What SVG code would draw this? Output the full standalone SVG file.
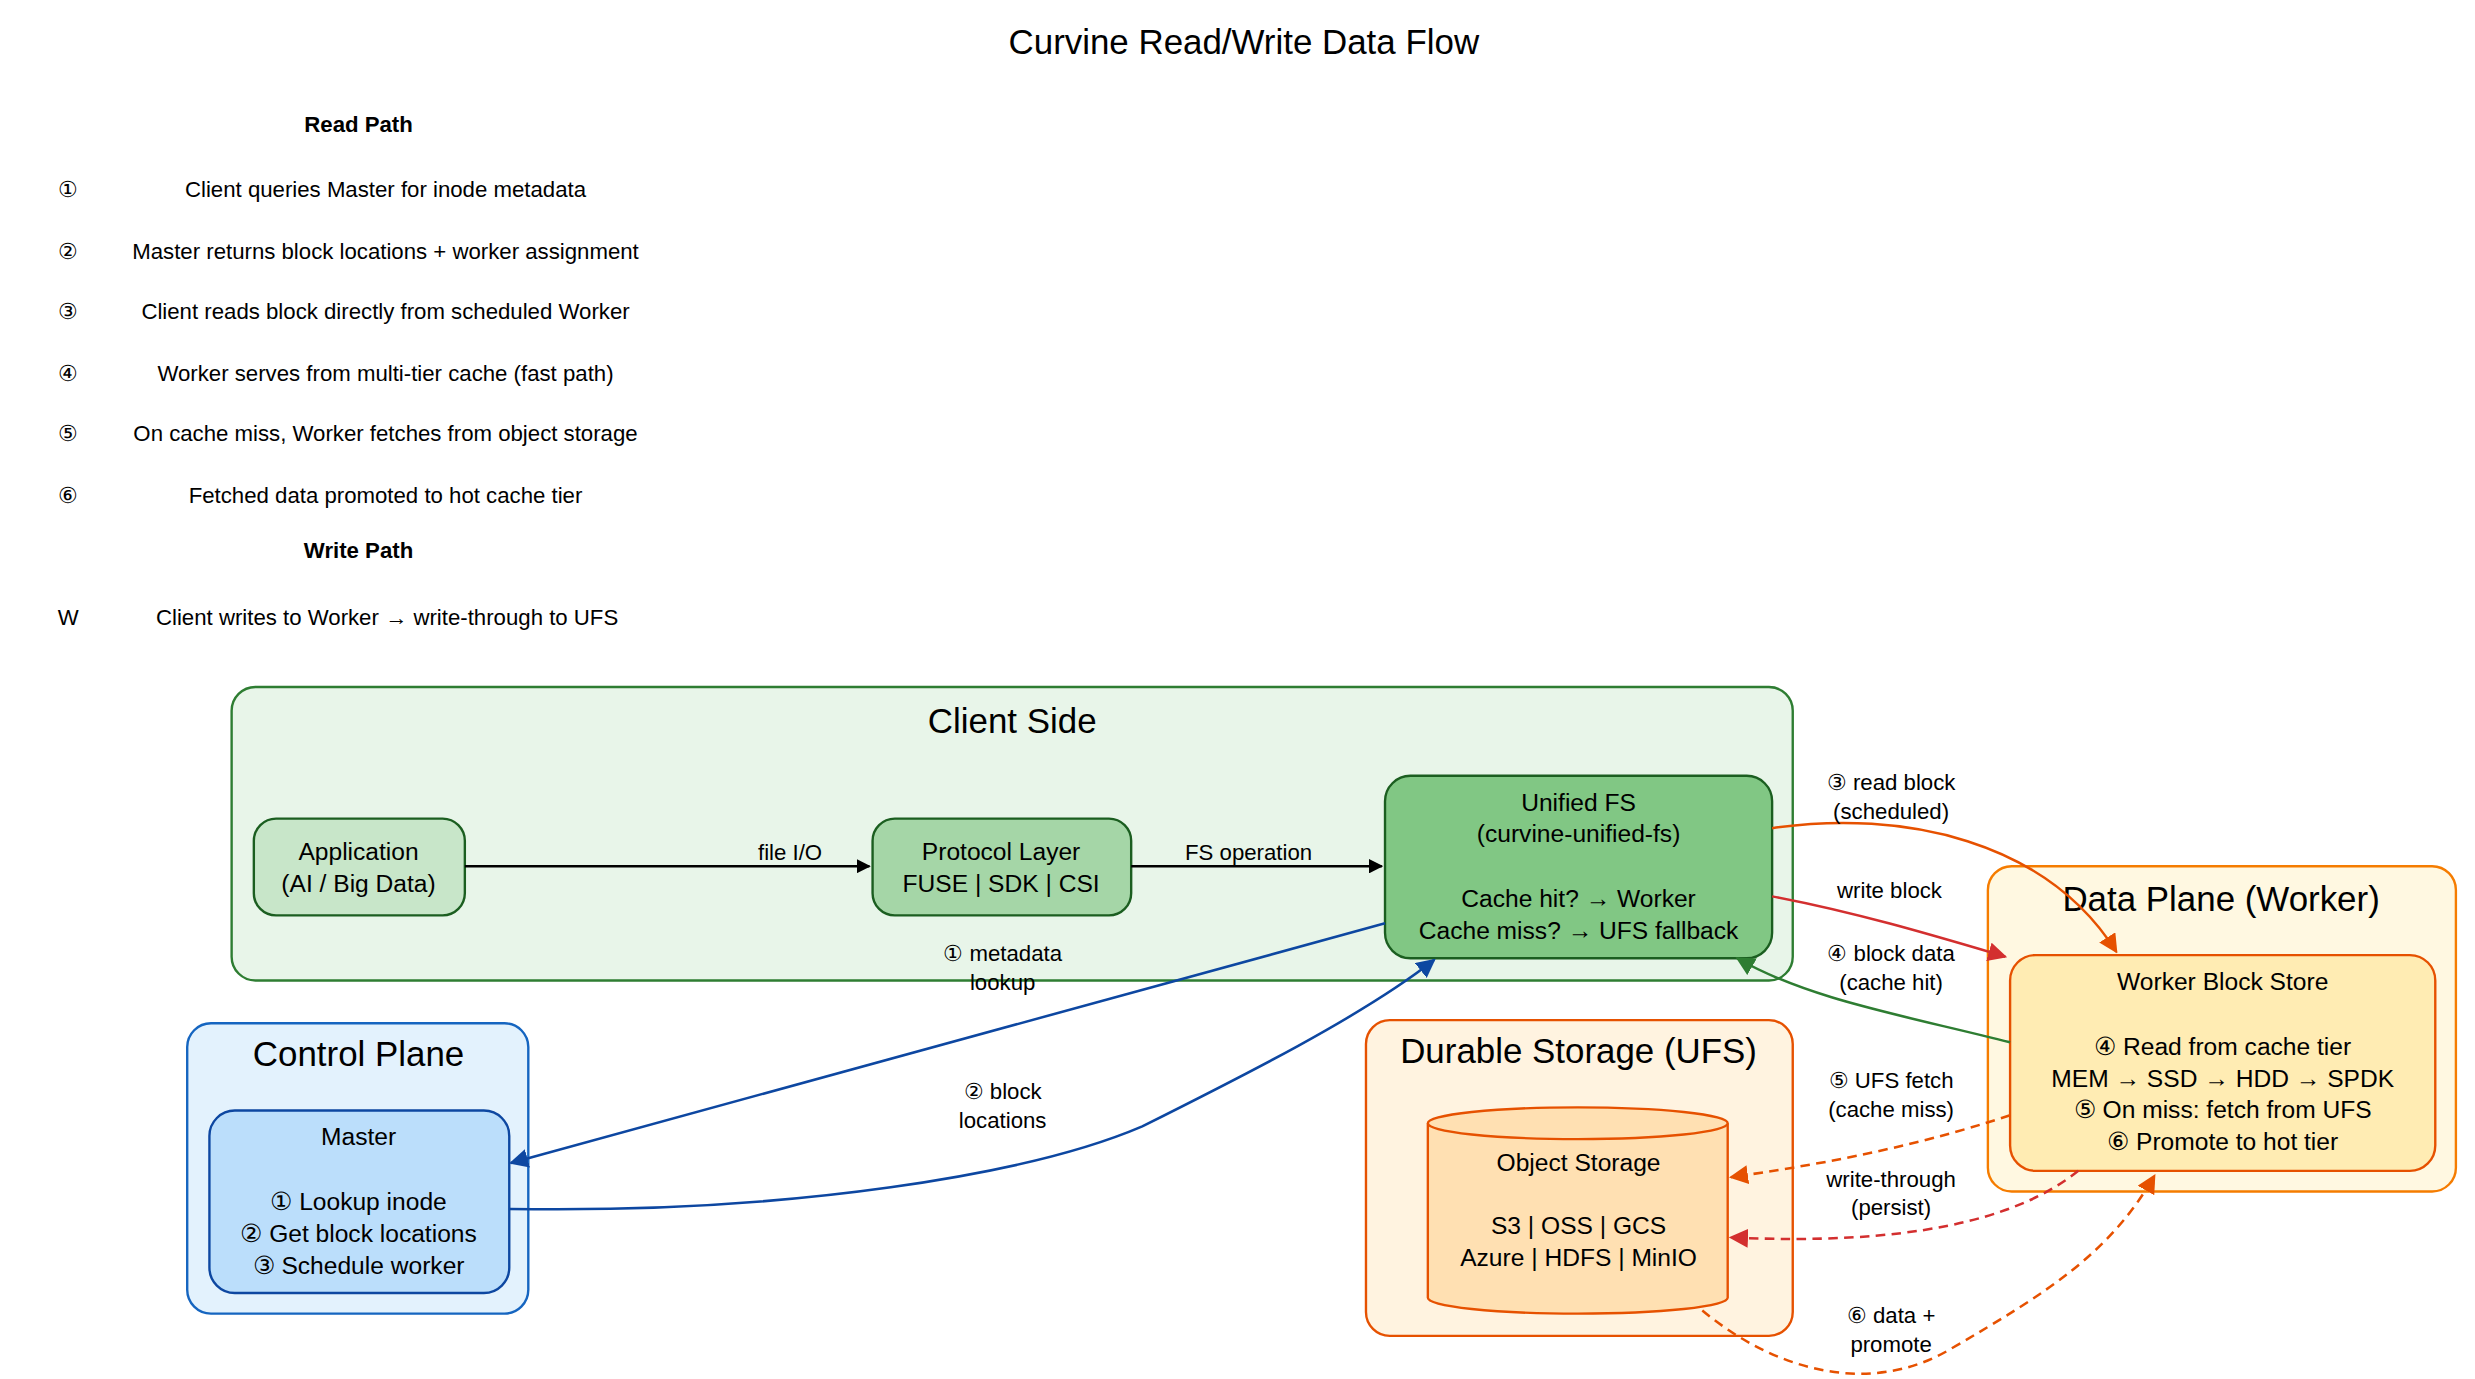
<svg xmlns="http://www.w3.org/2000/svg" width="2475" height="1379" viewBox="0 0 2475 1379">
<style>
text{font-family:"Liberation Sans",Arial,sans-serif;fill:#000;text-anchor:middle}
.t{font-size:14px}.n{font-size:15.5px}.el{font-size:14px}.cl{font-size:22px}.b{font-weight:bold}
.e{fill:none;stroke-width:1.6}.d{stroke-dasharray:6,4}
</style>
<defs>
<marker id="mk" viewBox="0 0 10 10" refX="9" refY="5" markerWidth="9" markerHeight="9" markerUnits="userSpaceOnUse" orient="auto"><path d="M0,0L10,5L0,10z" fill="#000"/></marker>
<marker id="mb" viewBox="0 0 10 10" refX="9" refY="5" markerWidth="12" markerHeight="12" markerUnits="userSpaceOnUse" orient="auto"><path d="M0,0L10,5L0,10z" fill="#0d47a1"/></marker>
<marker id="mo" viewBox="0 0 10 10" refX="9" refY="5" markerWidth="12" markerHeight="12" markerUnits="userSpaceOnUse" orient="auto"><path d="M0,0L10,5L0,10z" fill="#e65100"/></marker>
<marker id="mr" viewBox="0 0 10 10" refX="9" refY="5" markerWidth="12" markerHeight="12" markerUnits="userSpaceOnUse" orient="auto"><path d="M0,0L10,5L0,10z" fill="#d32f2f"/></marker>
<marker id="mg" viewBox="0 0 10 10" refX="9" refY="5" markerWidth="12" markerHeight="12" markerUnits="userSpaceOnUse" orient="auto"><path d="M0,0L10,5L0,10z" fill="#2e7d32"/></marker>
</defs>
<rect width="2475" height="1379" fill="#fff"/>
<g transform="scale(1.5865)">
<g id="legend">
<text x="784" y="34" style="font-size:22px">Curvine Read/Write Data Flow</text>
<text class="t b" x="226" y="83">Read Path</text>
<text class="t" x="43" y="124">①</text><text class="t" x="243" y="124">Client queries Master for inode metadata</text>
<text class="t" x="43" y="163">②</text><text class="t" x="243" y="163">Master returns block locations + worker assignment</text>
<text class="t" x="43" y="201">③</text><text class="t" x="243" y="201">Client reads block directly from scheduled Worker</text>
<text class="t" x="43" y="240">④</text><text class="t" x="243" y="240">Worker serves from multi-tier cache (fast path)</text>
<text class="t" x="43" y="278">⑤</text><text class="t" x="243" y="278">On cache miss, Worker fetches from object storage</text>
<text class="t" x="43" y="317">⑥</text><text class="t" x="243" y="317">Fetched data promoted to hot cache tier</text>
<text class="t b" x="226" y="352">Write Path</text>
<text class="t" x="43" y="394">W</text><text class="t" x="244" y="394">Client writes to Worker → write-through to UFS</text>
</g>
<g id="client-side">
<rect x="146" y="433" width="984" height="185" rx="15" fill="#e8f5e9" stroke="#2e7d32" stroke-width="1.5"/>
<text class="cl" x="638" y="462">Client Side</text>
</g>
<g id="control-plane">
<rect x="118" y="645" width="215" height="183" rx="15" fill="#e3f2fd" stroke="#1565c0" stroke-width="1.5"/>
<text class="cl" x="226" y="672">Control Plane</text>
</g>
<g id="durable-storage">
<rect x="861" y="643" width="269" height="199" rx="15" fill="#fff3e0" stroke="#e65100" stroke-width="1.5"/>
<text class="cl" x="995" y="670">Durable Storage (UFS)</text>
</g>
<g id="data-plane">
<rect x="1253" y="546" width="295" height="205" rx="15" fill="#fff8e1" stroke="#f57c00" stroke-width="1.5"/>
<text class="cl" x="1400" y="574">Data Plane (Worker)</text>
</g>
<g id="application">
<rect x="160" y="516" width="133" height="61" rx="14" fill="#c8e6c9" stroke="#1b5e20" stroke-width="1.5"/>
<text class="n" x="226" y="542">Application</text><text class="n" x="226" y="562">(AI / Big Data)</text>
</g>
<g id="protocol-layer">
<rect x="550" y="516" width="163" height="61" rx="14" fill="#a5d6a7" stroke="#1b5e20" stroke-width="1.5"/>
<text class="n" x="631" y="542">Protocol Layer</text><text class="n" x="631" y="562">FUSE | SDK | CSI</text>
</g>
<g id="unified-fs">
<rect x="873" y="489" width="244" height="115" rx="16" fill="#81c784" stroke="#1b5e20" stroke-width="1.5"/>
<text class="n" x="995" y="511">Unified FS</text><text class="n" x="995" y="531">(curvine-unified-fs)</text>
<text class="n" x="995" y="572">Cache hit? → Worker</text><text class="n" x="995" y="592">Cache miss? → UFS fallback</text>
</g>
<g id="master">
<rect x="132" y="700" width="189" height="115" rx="16" fill="#bbdefb" stroke="#0d47a1" stroke-width="1.5"/>
<text class="n" x="226" y="722">Master</text>
<text class="n" x="226" y="763">① Lookup inode</text><text class="n" x="226" y="783">② Get block locations</text><text class="n" x="226" y="803">③ Schedule worker</text>
</g>
<g id="object-storage">
<path d="M900,708 L900,818 A94.5,10 0 0 0 1089,818 L1089,708" fill="#ffe0b2" stroke="#e65100" stroke-width="1.5"/>
<ellipse cx="994.5" cy="708" rx="94.5" ry="10" fill="#ffe0b2" stroke="#e65100" stroke-width="1.5"/>
<text class="n" x="995" y="738">Object Storage</text>
<text class="n" x="995" y="778">S3 | OSS | GCS</text><text class="n" x="995" y="798">Azure | HDFS | MinIO</text>
</g>
<g id="worker-block-store">
<rect x="1267" y="602" width="268" height="136" rx="16" fill="#ffecb3" stroke="#e65100" stroke-width="1.5"/>
<text class="n" x="1401" y="624">Worker Block Store</text>
<text class="n" x="1401" y="665">④ Read from cache tier</text><text class="n" x="1401" y="685">MEM → SSD → HDD → SPDK</text>
<text class="n" x="1401" y="705">⑤ On miss: fetch from UFS</text><text class="n" x="1401" y="725">⑥ Promote to hot tier</text>
</g>
<g id="connectors">
<path class="e" stroke="#000" d="M293,546L548,546" marker-end="url(#mk)"/>
<text class="el" x="498" y="542">file I/O</text>
<path class="e" stroke="#000" d="M713,546L871,546" marker-end="url(#mk)"/>
<text class="el" x="787" y="542">FS operation</text>
<path class="e" stroke="#0d47a1" d="M873,582L322,733" marker-end="url(#mb)"/>
<text class="el" x="632" y="606">① metadata</text><text class="el" x="632" y="624">lookup</text>
<path class="e" stroke="#0d47a1" d="M321,762C500,765 650,740 720,710C780,680 860,640 904,605" marker-end="url(#mb)"/>
<text class="el" x="632" y="693">② block</text><text class="el" x="632" y="711">locations</text>
<path class="e" stroke="#e65100" d="M1117,522C1200,510 1290,530 1334,600" marker-end="url(#mo)"/>
<text class="el" x="1192" y="498">③ read block</text><text class="el" x="1192" y="516">(scheduled)</text>
<path class="e" stroke="#d32f2f" d="M1117,565C1170,575 1220,590 1264,603" marker-end="url(#mr)"/>
<text class="el" x="1191" y="566">write block</text>
<path class="e" stroke="#2e7d32" d="M1267,657C1200,640 1140,630 1095,604" marker-end="url(#mg)"/>
<text class="el" x="1192" y="606">④ block data</text><text class="el" x="1192" y="624">(cache hit)</text>
<path class="e d" stroke="#e65100" d="M1267,703C1200,725 1140,735 1091,742" marker-end="url(#mo)"/>
<text class="el" x="1192" y="686">⑤ UFS fetch</text><text class="el" x="1192" y="704">(cache miss)</text>
<path class="e d" stroke="#d32f2f" d="M1310,738C1270,770 1200,785 1091,780" marker-end="url(#mr)"/>
<text class="el" x="1192" y="748">write-through</text><text class="el" x="1192" y="766">(persist)</text>
<path class="e d" stroke="#e65100" d="M1073,826C1120,865 1180,880 1230,850C1290,815 1330,790 1358,741" marker-end="url(#mo)"/>
<text class="el" x="1192" y="834">⑥ data +</text><text class="el" x="1192" y="852">promote</text>
</g>
</g>
</svg>
